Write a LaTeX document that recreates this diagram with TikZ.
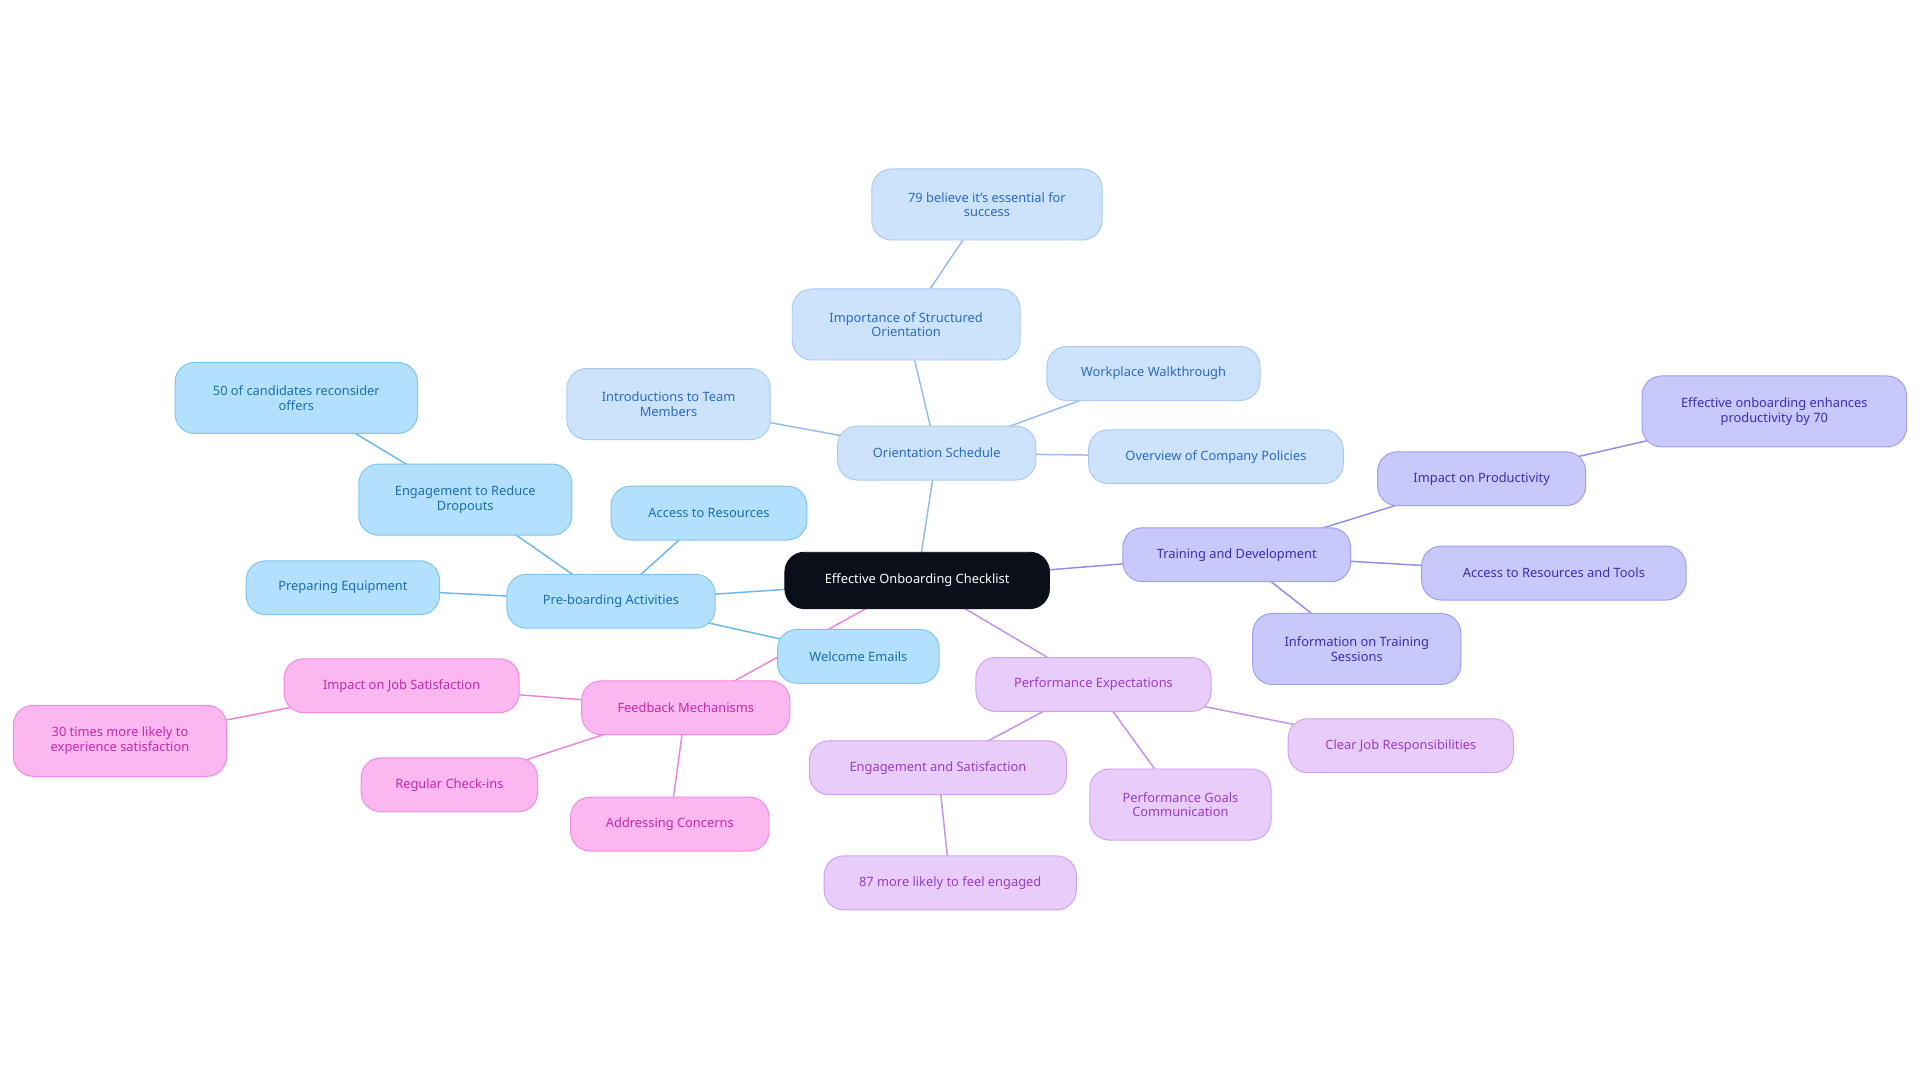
\documentclass[tikz,border=0pt]{standalone}
\usepackage{fontspec}
\setmainfont{Noto Sans}
\usetikzlibrary{backgrounds}
\definecolor{rootc}{HTML}{0B0F1A}
\definecolor{bF}{HTML}{B3E0FC}\definecolor{bD}{HTML}{7CC4F4}\definecolor{bT}{HTML}{1A6FB0}\definecolor{bE}{HTML}{6BB8EC}
\definecolor{lF}{HTML}{CDE3FB}\definecolor{lD}{HTML}{A8CBF3}\definecolor{lT}{HTML}{2A6BC6}\definecolor{lE}{HTML}{94BDEE}
\definecolor{pF}{HTML}{C8C8FB}\definecolor{pD}{HTML}{9F9FF0}\definecolor{pT}{HTML}{3B2FB0}\definecolor{pE}{HTML}{8F8FEA}
\definecolor{vF}{HTML}{E8CDFA}\definecolor{vD}{HTML}{D0A0F0}\definecolor{vT}{HTML}{9A3CC8}\definecolor{vE}{HTML}{C590EE}
\definecolor{kF}{HTML}{FBB8F0}\definecolor{kD}{HTML}{F08AE0}\definecolor{kT}{HTML}{C42AA8}\definecolor{kE}{HTML}{EC84DA}
\tikzset{
 x=1pt,y=-1pt,
 base/.style={rounded corners=16pt,align=center,inner sep=0pt,font=\fontsize{10.5}{12}\selectfont,line width=0.8pt},
 nb/.style n args={3}{base,minimum width=#1,minimum height=#2,text width=#3},
 rootn/.style={base,fill=rootc,draw=rootc,text=white},
 bn/.style={base,fill=bF,draw=bD,text=bT},
 ln/.style={base,fill=lF,draw=lD,text=lT},
 pn/.style={base,fill=pF,draw=pD,text=pT},
 vn/.style={base,fill=vF,draw=vD,text=vT},
 kn/.style={base,fill=kF,draw=kD,text=kT},
 be/.style={draw=bE,line width=1.2pt},
 le/.style={draw=lE,line width=1.2pt},
 pe/.style={draw=pE,line width=1.2pt},
 ve/.style={draw=vE,line width=1.2pt},
 ke/.style={draw=kE,line width=1.2pt},
}
\newcommand{\nd}[6]{\node[#1,minimum width=#4,minimum height=#5] (#2) at #3 {#6};}
\begin{document}
\begin{tikzpicture}
\useasboundingbox (0,0) rectangle (1568,884);
\nd{rootn}{root}{(749,474)}{216pt}{46pt}{Effective Onboarding Checklist}
\nd{ln}{orient}{(765,370)}{162pt}{44pt}{Orientation Schedule}
\nd{ln}{imp}{(740,265)}{186pt}{58pt}{Importance of Structured\\Orientation}
\nd{ln}{s79}{(806,167)}{188pt}{58pt}{79 believe it's essential for\\success}
\nd{ln}{walk}{(942,305)}{174pt}{44pt}{Workplace Walkthrough}
\nd{ln}{over}{(993,373)}{208pt}{44pt}{Overview of Company Policies}
\nd{ln}{intro}{(546,330)}{166pt}{58pt}{Introductions to Team\\Members}
\nd{bn}{pre}{(499,491)}{170pt}{44pt}{Pre-boarding Activities}
\nd{bn}{acc}{(579,419)}{160pt}{44pt}{Access to Resources}
\nd{bn}{eng}{(380,408)}{174pt}{58pt}{Engagement to Reduce\\Dropouts}
\nd{bn}{s50}{(242,325)}{198pt}{58pt}{50 of candidates reconsider\\offers}
\nd{bn}{prep}{(280,480)}{158pt}{44pt}{Preparing Equipment}
\nd{bn}{wel}{(701,536)}{132pt}{44pt}{Welcome Emails}
\nd{kn}{fb}{(560,578)}{170pt}{44pt}{Feedback Mechanisms}
\nd{kn}{ijs}{(328,560)}{192pt}{44pt}{Impact on Job Satisfaction}
\nd{kn}{s30}{(98,605)}{174pt}{58pt}{30 times more likely to\\experience satisfaction}
\nd{kn}{reg}{(367,641)}{144pt}{44pt}{Regular Check-ins}
\nd{kn}{addr}{(547,673)}{162pt}{44pt}{Addressing Concerns}
\nd{vn}{perf}{(893,559)}{192pt}{44pt}{Performance Expectations}
\nd{vn}{es}{(766,627)}{210pt}{44pt}{Engagement and Satisfaction}
\nd{vn}{s87}{(776,721)}{206pt}{44pt}{87 more likely to feel engaged}
\nd{vn}{goals}{(964,657)}{148pt}{58pt}{Performance Goals\\Communication}
\nd{vn}{clear}{(1144,609)}{184pt}{44pt}{Clear Job Responsibilities}
\nd{pn}{td}{(1010,453)}{186pt}{44pt}{Training and Development}
\nd{pn}{ip}{(1210,391)}{170pt}{44pt}{Impact on Productivity}
\nd{pn}{s70}{(1449,336)}{216pt}{58pt}{Effective onboarding enhances\\productivity by 70}
\nd{pn}{art}{(1269,468)}{216pt}{44pt}{Access to Resources and Tools}
\nd{pn}{info}{(1108,530)}{170pt}{58pt}{Information on Training\\Sessions}
\begin{scope}[on background layer]
\draw[le] (root.center)--(orient.center);
\draw[le] (orient.center)--(imp.center);
\draw[le] (imp.center)--(s79.center);
\draw[le] (orient.center)--(walk.center);
\draw[le] (orient.center)--(over.center);
\draw[le] (orient.center)--(intro.center);
\draw[be] (root.center)--(pre.center);
\draw[be] (pre.center)--(acc.center);
\draw[be] (pre.center)--(eng.center);
\draw[be] (eng.center)--(s50.center);
\draw[be] (pre.center)--(prep.center);
\draw[be] (pre.center)--(wel.center);
\draw[ke] (root.center)--(fb.center);
\draw[ke] (fb.center)--(ijs.center);
\draw[ke] (ijs.center)--(s30.center);
\draw[ke] (fb.center)--(reg.center);
\draw[ke] (fb.center)--(addr.center);
\draw[ve] (root.center)--(perf.center);
\draw[ve] (perf.center)--(es.center);
\draw[ve] (es.center)--(s87.center);
\draw[ve] (perf.center)--(goals.center);
\draw[ve] (perf.center)--(clear.center);
\draw[pe] (root.center)--(td.center);
\draw[pe] (td.center)--(ip.center);
\draw[pe] (ip.center)--(s70.center);
\draw[pe] (td.center)--(art.center);
\draw[pe] (td.center)--(info.center);
\end{scope}
\end{tikzpicture}
\end{document}
